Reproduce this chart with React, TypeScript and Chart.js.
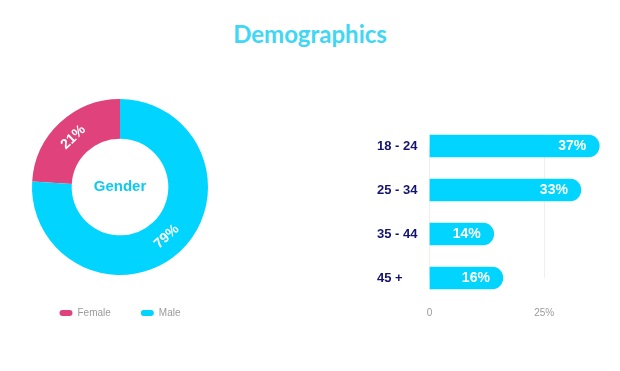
import React, { useEffect, useRef } from "react";
import { Chart, registerables } from "chart.js";

Chart.register(...registerables);

// ---- data ----
const titleText = "Demographics";
const genderCategories = ["Female", "Male"];
const genderShares = [24, 76]; // arc sizes as drawn in the picture
const genderLabels = ["21%", "79%"]; // texts printed on the arcs
const genderColors = ["#e0437b", "#00d4ff"];
const centerLabel = "Gender";

const ageCategories = ["18 - 24", "25 - 34", "35 - 44", "45 +"];
const ageValues = [37, 33, 14, 16];
const axisTickValues = [0, 25];
const barColor = "#00d4ff";

const arcLabelPlugin = {
  id: "arcLabels",
  afterDatasetsDraw(chart: any) {
    const ctx = chart.ctx;
    const meta = chart.getDatasetMeta(0);
    ctx.save();
    meta.data.forEach((arc: any, i: number) => {
      const p = arc.getProps(["x", "y", "startAngle", "endAngle", "innerRadius", "outerRadius"], true);
      const mid = (p.startAngle + p.endAngle) / 2;
      const r = (p.innerRadius + p.outerRadius) / 2;
      let rot = mid + Math.PI / 2;
      while (rot > Math.PI / 2) rot -= Math.PI;
      while (rot <= -Math.PI / 2) rot += Math.PI;
      ctx.save();
      ctx.translate(p.x + r * Math.cos(mid), p.y + r * Math.sin(mid));
      ctx.rotate(rot);
      ctx.font = "bold 14px Arial";
      ctx.fillStyle = "#ffffff";
      ctx.textAlign = "center";
      ctx.textBaseline = "middle";
      ctx.fillText(genderLabels[i], 0, 0);
      ctx.restore();
    });
    const a = meta.data[0];
    if (a) {
      ctx.font = "bold 15px Arial";
      ctx.fillStyle = "#0fc9f5";
      ctx.textAlign = "center";
      ctx.textBaseline = "middle";
      ctx.fillText(centerLabel, a.x, a.y);
    }
    ctx.restore();
  },
};

const barLabelPlugin = {
  id: "barLabels",
  afterDatasetsDraw(chart: any) {
    const ctx = chart.ctx;
    const meta = chart.getDatasetMeta(0);
    ctx.save();
    ctx.font = "bold 14px Arial";
    ctx.fillStyle = "#ffffff";
    ctx.textAlign = "right";
    ctx.textBaseline = "middle";
    meta.data.forEach((bar: any, i: number) => {
      ctx.fillText(`${ageValues[i]}%`, bar.x - 13, bar.y);
    });
    ctx.restore();
  },
};

function GenderChart() {
  const ref = useRef<HTMLCanvasElement>(null);
  useEffect(() => {
    const total = genderShares.reduce((s, v) => s + v, 0);
    const chart = new Chart(ref.current as HTMLCanvasElement, {
      type: "doughnut",
      data: {
        labels: genderCategories,
        datasets: [
          {
            data: genderShares,
            backgroundColor: genderColors,
            borderWidth: 0,
          },
        ],
      },
      options: {
        animation: false,
        responsive: false,
        maintainAspectRatio: false,
        radius: 88,
        cutout: 50,
        rotation: -(genderShares[0] / total) * 360,
        plugins: {
          legend: {
            position: "bottom",
            labels: {
              boxWidth: 13,
              boxHeight: 6,
              useBorderRadius: true,
              borderRadius: 3,
              padding: 30,
              color: "#9b9b9b",
              font: { size: 10, family: "Arial" },
            },
          },
          tooltip: { enabled: false },
        },
      } as any,
      plugins: [arcLabelPlugin],
    });
    return () => chart.destroy();
  }, []);
  return (
    <canvas
      ref={ref}
      width={240}
      height={232}
      style={{ position: "absolute", left: 0, top: 96, width: 240, height: 232 }}
    />
  );
}

function AgeChart() {
  const ref = useRef<HTMLCanvasElement>(null);
  useEffect(() => {
    const chart = new Chart(ref.current as HTMLCanvasElement, {
      type: "bar",
      data: {
        labels: ageCategories,
        datasets: [
          {
            data: ageValues,
            backgroundColor: barColor,
            borderRadius: 11,
            borderSkipped: "start",
            barThickness: 22,
            clip: false,
          } as any,
        ],
      },
      options: {
        indexAxis: "y",
        animation: false,
        responsive: false,
        maintainAspectRatio: false,
        layout: { padding: { left: 17, right: 7, top: 26, bottom: 0 } },
        scales: {
          x: {
            min: 0,
            max: 40,
            afterBuildTicks: (s: any) => {
              s.ticks = axisTickValues.map((v) => ({ value: v }));
            },
            ticks: {
              callback: (v: any) => (Number(v) === 0 ? "0" : `${v}%`),
              color: "#9b9b9b",
              font: { size: 10, family: "Arial" },
              padding: 29,
            },
            grid: { color: "#efefef", drawTicks: false },
            border: { display: false },
          },
          y: {
            offset: false,
            grid: { display: false, drawTicks: false },
            border: { display: false },
            ticks: {
              crossAlign: "far",
              padding: 6,
              color: "#14146e",
              font: { size: 13, weight: "bold", family: "Arial" },
            },
          },
        },
        plugins: {
          legend: { display: false },
          tooltip: { enabled: false },
        },
      } as any,
      plugins: [barLabelPlugin],
    });
    return () => chart.destroy();
  }, []);
  return (
    <canvas
      ref={ref}
      width={260}
      height={228}
      style={{ position: "absolute", left: 360, top: 120, width: 260, height: 228 }}
    />
  );
}

export default function App() {
  return (
    <div
      style={{
        position: "absolute",
        left: 0,
        top: 0,
        width: 620,
        height: 371,
        background: "#ffffff",
        overflow: "hidden",
      }}
    >
      <div
        style={{
          position: "absolute",
          left: 0,
          top: 19,
          width: 620,
          height: 30,
          lineHeight: "30px",
          textAlign: "center",
          fontFamily: "Lato, 'Open Sans', sans-serif",
          fontWeight: 700,
          fontSize: 24,
          color: "#40d6f5",
        }}
      >
        {titleText}
      </div>
      <GenderChart />
      <AgeChart />
    </div>
  );
}
